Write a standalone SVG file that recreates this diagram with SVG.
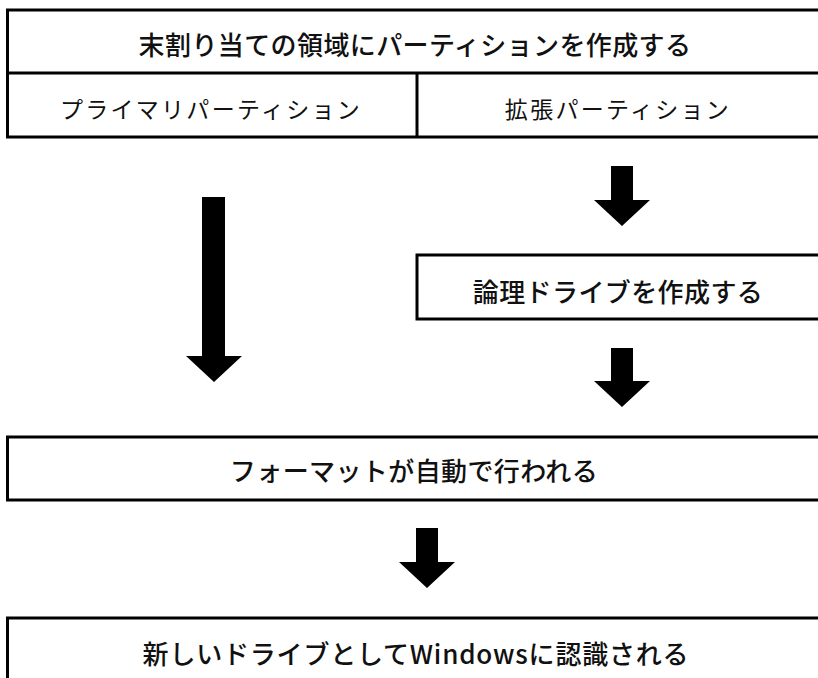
<svg xmlns="http://www.w3.org/2000/svg" width="818" height="678" viewBox="0 0 818 678">
<style>
.box{fill:#fff;stroke:#000;stroke-width:3}
.t{font-family:"Noto Sans CJK JP","Noto Sans",sans-serif;font-size:26px;font-weight:500;fill:#111;text-anchor:middle;dominant-baseline:central;letter-spacing:0.4px}
.s{font-family:"Noto Sans CJK JP","Noto Sans",sans-serif;font-size:23px;font-weight:400;fill:#111;text-anchor:middle;dominant-baseline:central;letter-spacing:2.3px}
.arr{fill:#000}
</style>
<rect width="818" height="678" fill="#fff"/>
<g id="create-partition">
<rect class="box" x="7.5" y="10" width="820" height="127"/>
<line x1="7.5" y1="73" x2="828" y2="73" stroke="#000" stroke-width="3"/>
<line x1="417" y1="73" x2="417" y2="137" stroke="#000" stroke-width="3"/>
<text class="t" x="415" y="43">末割り当ての領域にパーティションを作成する</text>
</g>
<g id="primary-partition">
<text class="s" x="211" y="108">プライマリパーティション</text>
</g>
<g id="extended-partition">
<text class="s" x="618" y="108">拡張パーティション</text>
</g>
<g id="logical-drive">
<rect class="box" x="417" y="255" width="410" height="64"/>
<text class="t" x="618" y="290">論理ドライブを作成する</text>
</g>
<g id="format">
<rect class="box" x="7.5" y="437" width="820" height="63"/>
<text class="t" x="414" y="469">フォーマットが自動で行われる</text>
</g>
<g id="recognized">
<rect class="box" x="7.5" y="618" width="820" height="80"/>
<text class="t" x="416" y="652" style="letter-spacing:0.8px">新しいドライブとしてWindowsに認識される</text>
</g>
<g id="connectors">
<polygon class="arr" points="202,197 225,197 225,356 242,356 214,382 186,356 202,356"/>
<polygon class="arr" points="611,166 633,166 633,200 650,200 622,226 594,200 611,200"/>
<polygon class="arr" points="611,348 633,348 633,381 650,381 622,407 594,381 611,381"/>
<polygon class="arr" points="416,528 438,528 438,562 455,562 427,588 399,562 416,562"/>
</g>
</svg>
